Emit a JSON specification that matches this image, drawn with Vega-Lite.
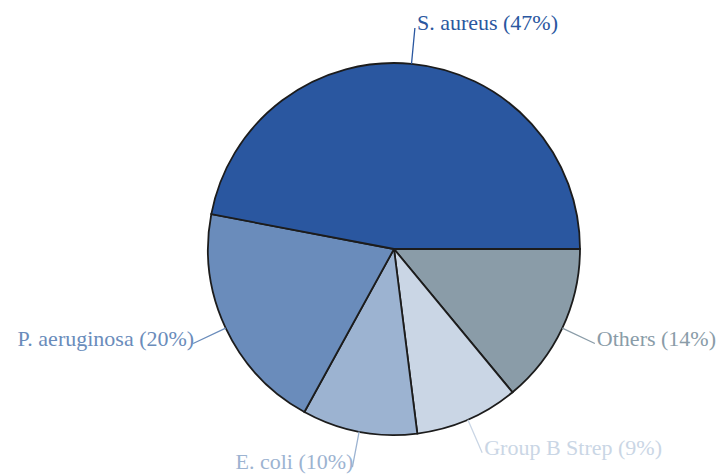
{
  "$schema": "https://vega.github.io/schema/vega-lite/v6.json",
  "autosize": {"type": "none"},
  "padding": {"left": 72, "top": 23, "right": 0, "bottom": 0},
  "width": 644,
  "height": 452,
  "background": "white",
  "config": {"view": {"stroke": null}},
  "data": {
    "values": [
      {"name": "Others", "pct": 14, "rank": 1, "label": "Others (14%)"},
      {"name": "Group B Strep", "pct": 9, "rank": 2, "label": "Group B Strep (9%)"},
      {"name": "E. coli", "pct": 10, "rank": 3, "label": "E. coli (10%)"},
      {"name": "P. aeruginosa", "pct": 20, "rank": 4, "label": "P. aeruginosa (20%)"},
      {"name": "S. aureus", "pct": 47, "rank": 5, "label": "S. aureus (47%)"}
    ]
  },
  "encoding": {
    "theta": {"field": "pct", "type": "quantitative", "stack": true, "scale": {"range": [1.5707963, 7.8539816]}},
    "order": {"field": "rank", "type": "quantitative", "sort": "ascending"},
    "color": {
      "field": "name",
      "type": "nominal",
      "legend": null,
      "scale": {
        "domain": ["Others", "Group B Strep", "E. coli", "P. aeruginosa", "S. aureus"],
        "range": ["#8A9CA8", "#CAD6E5", "#9CB3D1", "#6A8CBB", "#2A57A0"]
      }
    }
  },
  "layer": [
    {
      "mark": {"type": "arc", "radius": 186, "stroke": "#1c1c1c", "strokeWidth": 1.8}
    },
    {
      "mark": {"type": "arc", "filled": false, "radius": 222, "radius2": 186, "padAngle": 3.14159, "strokeWidth": 1.3}
    },
    {
      "mark": {"type": "text", "radius": 222, "align": "left", "baseline": "alphabetic", "dx": 2, "dy": 2, "font": "Liberation Serif", "fontSize": 22},
      "encoding": {
        "text": {"field": "label", "type": "nominal"},
        "opacity": {"condition": {"test": "datum.name === 'S. aureus' || datum.name === 'Others' || datum.name === 'Group B Strep'", "value": 1}, "value": 0}
      }
    },
    {
      "mark": {"type": "text", "radius": 222, "align": "right", "baseline": "alphabetic", "dx": 1, "dy": 2, "font": "Liberation Serif", "fontSize": 22},
      "encoding": {
        "text": {"field": "label", "type": "nominal"},
        "opacity": {"condition": {"test": "datum.name === 'E. coli' || datum.name === 'P. aeruginosa'", "value": 1}, "value": 0}
      }
    }
  ]
}
